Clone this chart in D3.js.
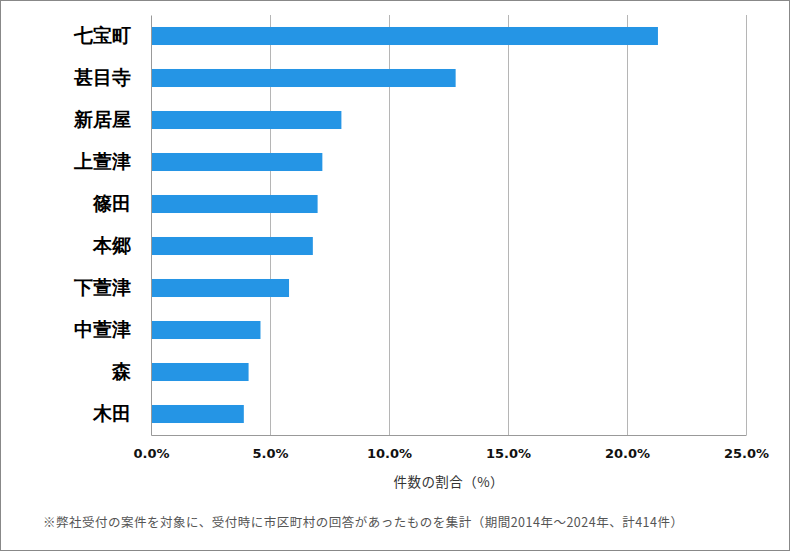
<!DOCTYPE html>
<html>
<head>
<meta charset="utf-8">
<script src="https://cdn.jsdelivr.net/npm/d3@7"></script>
<style>
  body { margin: 0; background: #fff; }
  svg { display: block; font-family: "Noto Sans CJK JP", "Noto Sans", sans-serif; }
</style>
</head>
<body>
<div id="chart"></div>
<script>
// data (share of cases, %)
const areas = ['七宝町', '甚目寺', '新居屋', '上萱津', '篠田', '本郷', '下萱津', '中萱津', '森', '木田'];
const shares = [21.3, 12.8, 8.0, 7.2, 7.0, 6.8, 5.8, 4.6, 4.1, 3.9];
const xTicks = [0, 5, 10, 15, 20, 25];
const xTitle = '件数の割合（%）';
const note = '※弊社受付の案件を対象に、受付時に市区町村の回答があったものを集計（期間2014年～2024年、計414件）';

const width = 790, height = 551;
const margin = { top: 15, right: 44, bottom: 116, left: 151 };
const innerW = width - margin.left - margin.right;
const innerH = height - margin.top - margin.bottom;

const svg = d3.select('#chart').append('svg')
    .attr('width', width)
    .attr('height', height);

// outer frame
svg.append('rect')
    .attr('x', 0.5).attr('y', 0.5)
    .attr('width', width - 1).attr('height', height - 1)
    .attr('fill', '#fff').attr('stroke', '#888');

const chart = svg.append('g')
    .attr('transform', `translate(${margin.left}, ${margin.top})`);

const scaleX = d3.scaleLinear([0, 25], [0, innerW]);
const scaleY = d3.scaleBand(areas, [0, innerH]).paddingInner(0.571).paddingOuter(0.2855);

// gridlines
chart.selectAll('line.grid')
    .data(xTicks.slice(1))
    .join('line')
    .classed('grid', true)
    .attr('x1', d => Math.round(scaleX(d)) + 0.5)
    .attr('x2', d => Math.round(scaleX(d)) + 0.5)
    .attr('y1', 0).attr('y2', innerH)
    .attr('stroke', '#b5b5b5');

// bars
chart.selectAll('rect.bar')
    .data(areas.map((a, i) => ({ area: a, value: shares[i] })))
    .join('rect')
    .classed('bar', true)
    .attr('x', 0)
    .attr('y', d => scaleY(d.area))
    .attr('width', d => scaleX(d.value))
    .attr('height', scaleY.bandwidth())
    .attr('fill', '#2595e5');

// axes
const axisX = chart.append('g')
    .attr('transform', `translate(0, ${innerH})`)
    .call(d3.axisBottom(scaleX).tickValues(xTicks).tickSize(0).tickPadding(14)
        .tickFormat(d => d.toFixed(1) + '%'));
axisX.select('.domain').attr('stroke', '#999');
axisX.selectAll('text')
    .attr('font-size', 13).attr('font-weight', 'bold').attr('fill', '#111')
    .attr('font-family', '"DejaVu Sans", sans-serif');

const axisY = chart.append('g')
    .call(d3.axisLeft(scaleY).tickSize(0).tickPadding(20));
axisY.select('.domain').attr('stroke', '#999');
axisY.selectAll('text')
    .attr('font-size', 18.5).attr('font-weight', 'bold').attr('fill', '#000');

// labels
svg.append('text')
    .attr('x', margin.left + innerW / 2)
    .attr('y', 487)
    .attr('text-anchor', 'middle')
    .attr('font-size', 13.5)
    .attr('textLength', 110)
    .attr('lengthAdjust', 'spacing')
    .attr('fill', '#333')
    .text(xTitle);

svg.append('text')
    .attr('x', 43)
    .attr('y', 527)
    .attr('font-size', 12.5)
    .attr('textLength', 640)
    .attr('lengthAdjust', 'spacing')
    .attr('fill', '#555')
    .text(note);
</script>
</body>
</html>
